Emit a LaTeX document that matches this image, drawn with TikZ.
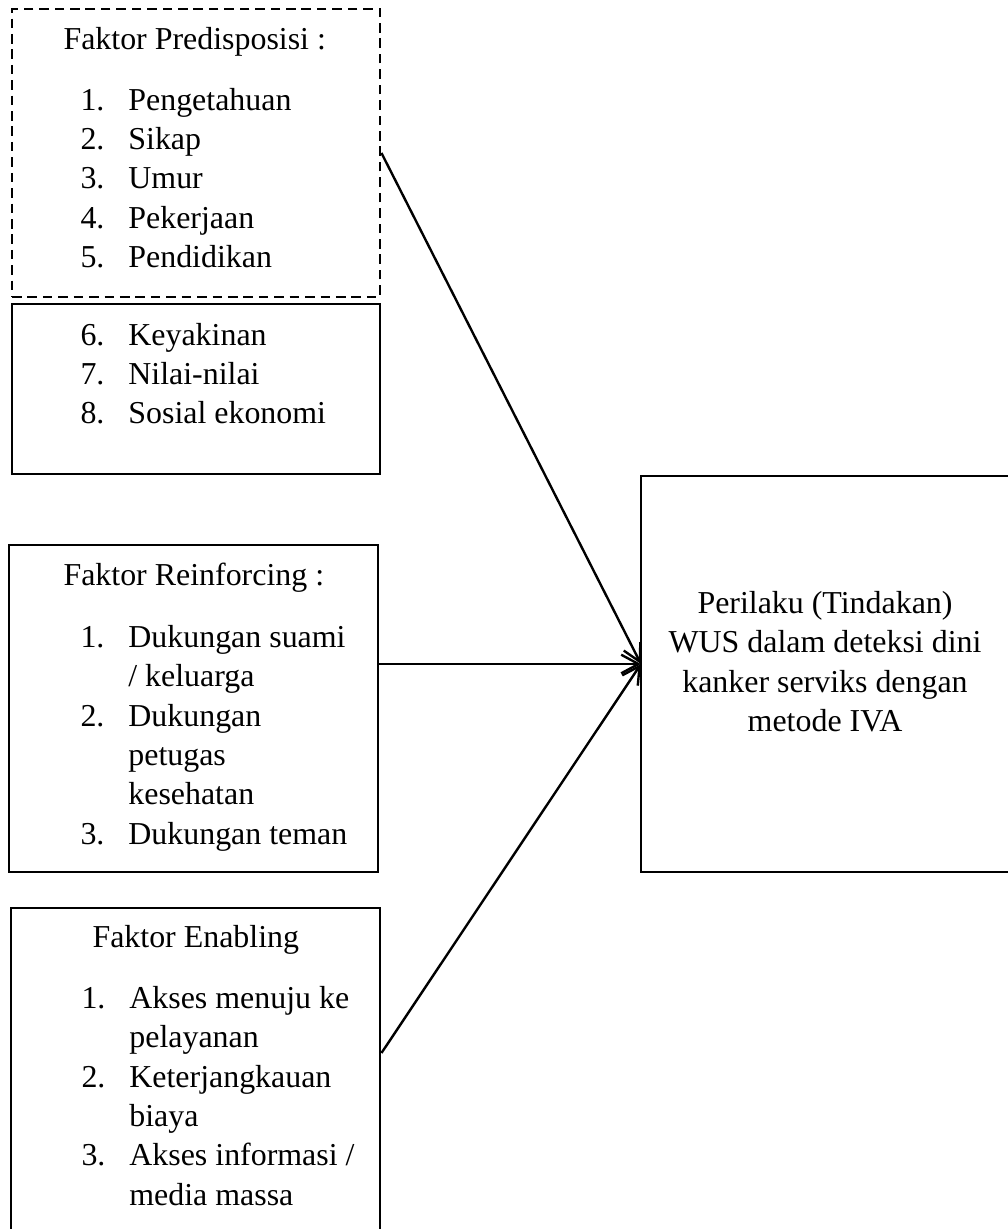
\documentclass[tikz,border=0pt]{standalone}
\usepackage{fontspec}
\setmainfont{Liberation Serif}
\usepackage{tikz}
\usetikzlibrary{arrows.meta,calc}

\newcommand{\pxu}{0.376pt}
\tikzset{
	box/.style={draw, line width=1.1pt, inner sep=0pt},
	dbox/.style={box, dash pattern=on 3.6pt off 2.2pt},
	txt/.style={anchor=base west, inner sep=0pt},
	arr/.style={line width=0.9pt, -{Straight Barb[length=6.5pt,width=7pt]}},
}

\begin{document}
\begin{tikzpicture}[x=0.376pt, y=-0.376pt, font=\fontsize{12}{14.85}\selectfont]
		\useasboundingbox (0,0) rectangle (1008,1229);
		
		% 1. 方框
		\node[dbox, minimum width=368*\pxu, minimum height=288*\pxu] (predis) at (196,153) {};
		\node[box, minimum width=368*\pxu, minimum height=170*\pxu] (predisB) at (196,389) {};
		\node[box, minimum width=369*\pxu, minimum height=327*\pxu] (reinf) at (193.5,708.5) {};
		\node[box, minimum width=369*\pxu, minimum height=327*\pxu] (enab) at (195.5,1071.5) {};
		\node[box, minimum width=371*\pxu, minimum height=396*\pxu] (perilaku) at (826.5,674) {};
		
		% 2. 左侧文字
		\node[txt] (predisT) at (63,49) {Faktor Predisposisi :};
		\node[txt] (predisL) at (80,110) {\begin{tabular}[t]{@{}p{18pt}@{}l@{}}
				1. & Pengetahuan\\ 2. & Sikap\\ 3. & Umur\\ 4. & Pekerjaan\\ 5. & Pendidikan
			\end{tabular}};
		\node[txt] (predisBL) at (80,345) {\begin{tabular}[t]{@{}p{18pt}@{}l@{}}
				6. & Keyakinan\\ 7. & Nilai-nilai\\ 8. & Sosial ekonomi
			\end{tabular}};
		
		\node[txt] (reinfT) at (63,585) {Faktor Reinforcing :};
		\node[txt] (reinfL) at (80,647) {\begin{tabular}[t]{@{}p{18pt}@{}l@{}}
				1. & Dukungan suami\\ & / keluarga\\ 2. & Dukungan\\ & petugas\\ & kesehatan\\ 3. & Dukungan teman
			\end{tabular}};
		
		\node[txt] (enabT) at (92,947) {Faktor Enabling};
		\node[txt] (enabL) at (81,1008) {\begin{tabular}[t]{@{}p{18pt}@{}l@{}}
				1. & Akses menuju ke\\ & pelayanan\\ 2. & Keterjangkauan\\ & biaya\\ 3. & Akses informasi /\\ & media massa
			\end{tabular}};
		
		% 3. 右侧文字
		\node[anchor=base, inner sep=0pt] (perilakuT) at (825,613) {\begin{tabular}[t]{@{}c@{}}
				Perilaku (Tindakan)\\ WUS dalam deteksi dini\\ kanker serviks dengan\\ metode IVA
			\end{tabular}};
		
		% 4. 箭头
		\coordinate (tip) at (641,664);
		\draw[arr] (predis.east) -- (tip);
		\draw[arr] (reinf.east |- tip) -- (tip);
		\draw[arr] ($(enab.east)+(0,-18.5)$) -- (tip);
		
	\end{tikzpicture}
\end{document}
